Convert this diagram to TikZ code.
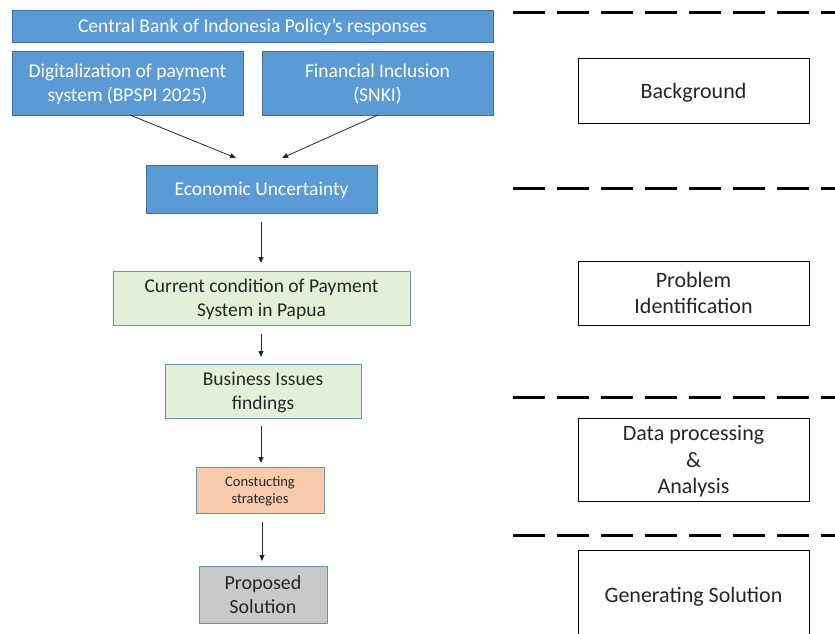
\documentclass[tikz,border=0pt]{standalone}
\usepackage{fontspec}
\setmainfont{Carlito}
\usetikzlibrary{arrows.meta}
\definecolor{bluefill}{HTML}{5B9BD5}
\definecolor{blueline}{HTML}{41719C}
\definecolor{greenfill}{HTML}{E2F0D9}
\definecolor{orangefill}{HTML}{F8CBAD}
\definecolor{grayfill}{HTML}{C9C9C9}
\definecolor{boxline}{HTML}{6F8FAF}
\definecolor{txt}{HTML}{262626}
\tikzset{
  basebox/.style={line width=0.8pt, align=center, inner sep=0pt, text depth=0pt},
  bluebox/.style={basebox, draw=blueline, fill=bluefill, text=white, font=\fontsize{19.5}{24}\selectfont},
  greenbox/.style={basebox, draw=boxline, fill=greenfill, text=txt, font=\fontsize{19.5}{24}\selectfont},
  orangebox/.style={basebox, draw=boxline, fill=orangefill, text=txt, font=\fontsize{14.5}{17}\selectfont},
  graybox/.style={basebox, draw=boxline, fill=grayfill, text=txt, font=\fontsize{20}{24}\selectfont},
  stagebox/.style={basebox, draw=black, fill=white, text=txt, minimum width=231pt, font=\fontsize{22}{26.5}\selectfont},
  flowarrow/.style={-{Triangle[length=6pt,width=5pt]}, line width=0.8pt, color=black!85},
  sepline/.style={line width=3pt, dash pattern=on 32pt off 12pt}
}
\begin{document}
\begin{tikzpicture}[x=1pt,y=-1pt]
\useasboundingbox (0,0) rectangle (835,633);
% left flow
\node[bluebox, minimum width=481pt, minimum height=32pt] (cb) at (252.5,26) {Central Bank of Indonesia Policy’s responses};
\node[bluebox, minimum width=231pt, minimum height=64pt] (dig) at (127.5,83) {Digitalization of payment\\system (BPSPI 2025)};
\node[bluebox, minimum width=231pt, minimum height=64pt] (fin) at (377.5,83) {Financial Inclusion\\(SNKI)};
\node[bluebox, minimum width=231pt, minimum height=48pt] (eco) at (261.5,189) {Economic Uncertainty};
\node[greenbox, minimum width=297pt, minimum height=54pt] (cur) at (261.5,298) {Current condition of Payment\\System in Papua};
\node[greenbox, minimum width=196pt, minimum height=54pt] (bus) at (263,391) {Business Issues\\findings};
\node[orangebox, minimum width=128pt, minimum height=46pt] (con) at (260,490) {Constucting\\strategies};
\node[graybox, minimum width=128pt, minimum height=57pt] (pro) at (263,594.5) {Proposed\\Solution};
% arrows
\coordinate (d1) at (130,115);
\coordinate (d2) at (236,158);
\coordinate (f1) at (378,115);
\coordinate (f2) at (282,158);
\coordinate (e1) at (261,222);
\coordinate (e2) at (261,263);
\coordinate (c1) at (261,334);
\coordinate (c2) at (261,357);
\coordinate (b1) at (261,426);
\coordinate (b2) at (261,463);
\coordinate (k1) at (262,522);
\coordinate (k2) at (262,561);
\draw[flowarrow] (d1) -- (d2);
\draw[flowarrow] (f1) -- (f2);
\draw[flowarrow] (e1) -- (e2);
\draw[flowarrow] (c1) -- (c2);
\draw[flowarrow] (b1) -- (b2);
\draw[flowarrow] (k1) -- (k2);
% separators
\coordinate (s1a) at (513,12); \coordinate (s1b) at (835,12);
\coordinate (s2a) at (513,188); \coordinate (s2b) at (835,188);
\coordinate (s3a) at (513,397); \coordinate (s3b) at (835,397);
\coordinate (s4a) at (513,535); \coordinate (s4b) at (835,535);
\draw[sepline] (s1a) -- (s1b);
\draw[sepline] (s2a) -- (s2b);
\draw[sepline] (s3a) -- (s3b);
\draw[sepline] (s4a) -- (s4b);
% stages
\node[stagebox, minimum height=65pt] (bg) at (693.5,90.5) {Background};
\node[stagebox, minimum height=64pt] (pi) at (693.5,293) {Problem\\Identification};
\node[stagebox, minimum height=83pt] (dp) at (693.5,459.5) {Data processing\\\&\\Analysis};
\node[stagebox, minimum height=90pt] (gs) at (693.5,595) {Generating Solution};
\end{tikzpicture}
\end{document}
